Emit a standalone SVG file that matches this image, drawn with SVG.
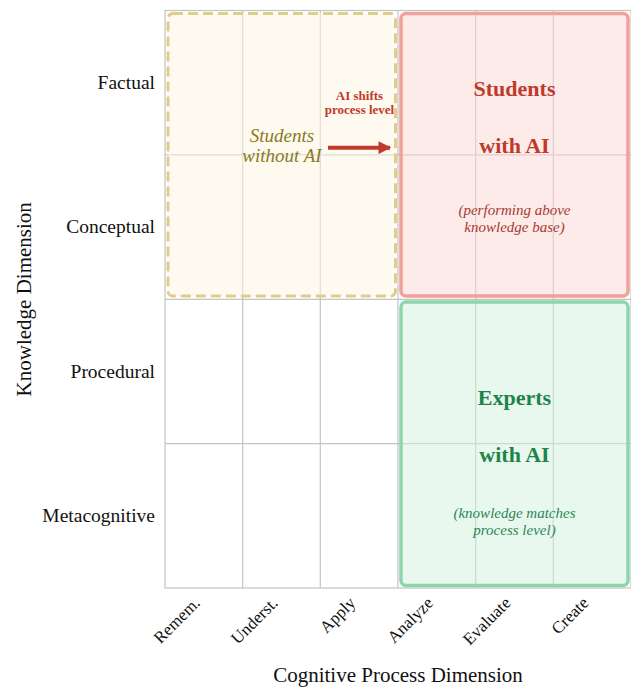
<svg xmlns="http://www.w3.org/2000/svg" width="631" height="688" viewBox="0 0 631 688">
  <defs>
    <marker id="arrowHead" viewBox="0 0 10 10" refX="9" refY="5" markerWidth="3.2" markerHeight="3.2" orient="auto" markerUnits="strokeWidth">
      <path d="M0,0 L10,5 L0,10 z" fill="#c0392b"/>
    </marker>
    <style>
      text { font-family: "Liberation Serif", "Times New Roman", serif; }
      .grid line { stroke: #c4c4c4; stroke-width: 1.2; }
      .frame { fill: none; stroke: #c4c4c4; stroke-width: 1.2; }
      .rowlab { font-size: 19.5px; fill: #111; text-anchor: end; }
      .collab { font-size: 17px; fill: #111; text-anchor: end; }
      .axis { font-size: 21px; fill: #111; text-anchor: middle; }
      .zone { stroke-linejoin: round; }
      .title { font-size: 22px; font-weight: bold; text-anchor: middle; }
      .note { font-size: 15px; font-style: italic; text-anchor: middle; }
      .shift { font-size: 13px; font-weight: bold; fill: #c0392b; text-anchor: middle; }
    </style>
  </defs>

  <!-- 6 x 4 taxonomy grid -->
  <g id="grid" class="grid">
    <rect class="frame" x="165" y="10.5" width="466" height="577.5"/>
    <line x1="242.7" y1="10.5" x2="242.7" y2="588"/>
    <line x1="320.3" y1="10.5" x2="320.3" y2="588"/>
    <line x1="398" y1="10.5" x2="398" y2="588"/>
    <line x1="475.7" y1="10.5" x2="475.7" y2="588"/>
    <line x1="553.3" y1="10.5" x2="553.3" y2="588"/>
    <line x1="165" y1="154.9" x2="631" y2="154.9"/>
    <line x1="165" y1="299.3" x2="631" y2="299.3"/>
    <line x1="165" y1="443.7" x2="631" y2="443.7"/>
  </g>

  <!-- region: students without AI -->
  <g id="students-without-ai">
    <rect class="zone" x="168" y="13.5" width="227.5" height="282.5" rx="5" fill="#fdf5e1" fill-opacity="0.5" stroke="#e0cd88" stroke-width="3" stroke-dasharray="10 5"/>
    <text x="282" y="141.7" font-size="19px" font-style="italic" fill="#8a7a1f" text-anchor="middle">Students</text>
    <text x="282" y="161.7" font-size="19px" font-style="italic" fill="#8a7a1f" text-anchor="middle">without AI</text>
  </g>

  <!-- region: students with AI -->
  <g id="students-with-ai">
    <rect class="zone" x="401" y="13.5" width="227" height="282.5" rx="5" fill="#f9d7d3" fill-opacity="0.5" stroke="#f1a199" stroke-width="3.5"/>
    <text class="title" x="514.5" y="96" fill="#c0392b">Students</text>
    <text class="title" x="514.5" y="153" fill="#c0392b">with AI</text>
    <text class="note" x="514.5" y="215" fill="#a93a30">(performing above</text>
    <text class="note" x="514.5" y="231.7" fill="#a93a30">knowledge base)</text>
  </g>

  <!-- region: experts with AI -->
  <g id="experts-with-ai">
    <rect class="zone" x="401" y="302" width="227" height="283.5" rx="5" fill="#d1f1dd" fill-opacity="0.5" stroke="#8fd5ab" stroke-width="3.5"/>
    <text class="title" x="514.5" y="405" fill="#1e8449">Experts</text>
    <text class="title" x="514.5" y="461.7" fill="#1e8449">with AI</text>
    <text class="note" x="514.5" y="518.3" fill="#2a8656">(knowledge matches</text>
    <text class="note" x="514.5" y="535" fill="#2a8656">process level)</text>
  </g>

  <!-- shift arrow -->
  <g id="connectors">
    <line x1="328" y1="147.7" x2="390" y2="147.7" stroke="#c0392b" stroke-width="4" marker-end="url(#arrowHead)"/>
    <text class="shift" x="359.5" y="99.6">AI shifts</text>
    <text class="shift" x="359.5" y="113.6">process level</text>
  </g>

  <!-- knowledge dimension rows -->
  <g id="row-labels">
    <text class="rowlab" x="155" y="88.8">Factual</text>
    <text class="rowlab" x="155" y="233.2">Conceptual</text>
    <text class="rowlab" x="155" y="377.5">Procedural</text>
    <text class="rowlab" x="155" y="521.8">Metacognitive</text>
  </g>

  <!-- cognitive process columns -->
  <g id="col-labels">
    <text class="collab" transform="translate(201,604) rotate(-45)">Remem.</text>
    <text class="collab" transform="translate(278.8,604) rotate(-45)">Underst.</text>
    <text class="collab" transform="translate(356.5,604) rotate(-45)">Apply</text>
    <text class="collab" transform="translate(434.2,604) rotate(-45)">Analyze</text>
    <text class="collab" transform="translate(511.8,604) rotate(-45)">Evaluate</text>
    <text class="collab" transform="translate(589.5,604) rotate(-45)">Create</text>
  </g>

  <!-- axis titles -->
  <g id="axis-titles">
    <text class="axis" x="398" y="681.7">Cognitive Process Dimension</text>
    <text class="axis" transform="translate(30.5,299.3) rotate(-90)">Knowledge Dimension</text>
  </g>
</svg>
